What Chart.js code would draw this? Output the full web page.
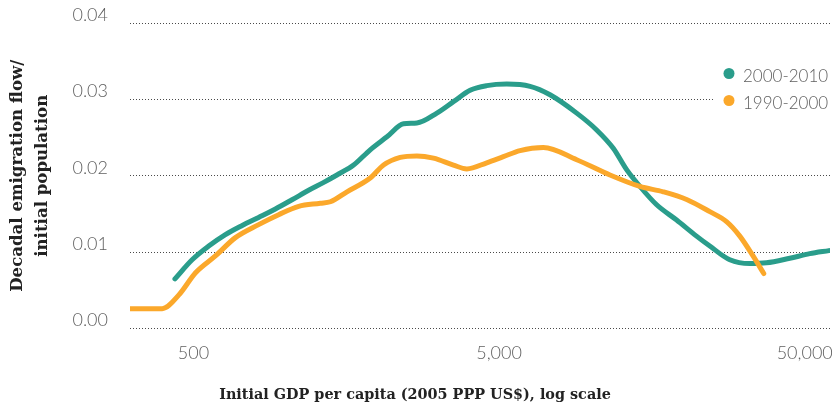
<!DOCTYPE html>
<html>
<head>
<meta charset="utf-8">
<script src="https://cdn.jsdelivr.net/npm/chart.js@4/dist/chart.umd.min.js"></script>
<style>
  html, body { margin: 0; padding: 0; background: #ffffff; }
  #c { display: block; }
</style>
</head>
<body>
<canvas id="c" width="838" height="411" style="width:838px;height:411px"></canvas>
<script>
// Emigration rate by initial GDP per capita, two decades
const seriesLabels = ['2000-2010', '1990-2000'];

// 2000-2010 decade
const gdp2000 = [435, 495, 561, 636, 722, 817, 927, 1051, 1191, 1330, 1474, 1671, 1894, 2148, 2434, 2692,
  3129, 3545, 4020, 4558, 5300, 6314, 7339, 8973, 10430, 11820, 13070, 14450, 16390, 19050, 22130,
  24460, 28440, 33060, 37480, 44670, 51920, 60000];
const rate2000 = [0.0065, 0.0090, 0.0108, 0.0123, 0.0135, 0.01455, 0.01565, 0.01686, 0.0181, 0.0191, 0.0201,
  0.0214, 0.0234, 0.0251, 0.0268, 0.0269, 0.0282, 0.0297, 0.0312, 0.0318, 0.0320, 0.0317, 0.0306,
  0.0282, 0.0260, 0.0236, 0.0208, 0.0186, 0.0162, 0.0142, 0.0121, 0.0108, 0.0090, 0.0085, 0.0086,
  0.0092, 0.0098, 0.0102];

// 1990-2000 decade
const gdp1990 = [310, 395, 448, 508, 590, 686, 817, 950, 1105, 1300, 1402, 1590, 1894, 2094, 2374, 2692,
  3050, 3545, 3921, 4558, 5164, 5856, 6980, 8973, 11530, 14450, 17220, 20540, 24460, 27740, 30670,
  33880, 36730];
const rate1990 = [0.0026, 0.0026, 0.0044, 0.0073, 0.0095, 0.0119, 0.0136, 0.0149, 0.0160, 0.0164, 0.0166,
  0.0179, 0.0197, 0.0214, 0.0224, 0.0226, 0.0223, 0.0214, 0.0209, 0.0217, 0.0225, 0.0233, 0.0237,
  0.0221, 0.0201, 0.0186, 0.0179, 0.0169, 0.0153, 0.0140, 0.0121, 0.0095, 0.0072];

const xTicks = [500, 5000, 50000];
const yTicks = [0, 0.01, 0.02, 0.03, 0.04];

const TEAL = '#2a9d8b';
const ORANGE = '#fba82b';
const TEXT_GREY = '#5f5f5f';

const toPoints = (xs, ys) => xs.map((x, i) => ({ x: x, y: ys[i] }));

// Small key in the upper right of the plot area, on a white patch over the grid
const seriesKey = {
  id: 'seriesKey',
  afterDraw(chart) {
    const { ctx, chartArea } = chart;
    ctx.save();
    ctx.fillStyle = '#ffffff';
    ctx.fillRect(chartArea.right - 116, chartArea.top + 36, 124, 58);
    ctx.font = '300 17px Lato';
    ctx.textBaseline = 'middle';
    ctx.textAlign = 'left';
    const byIndex = chart.data.datasets.slice().sort((a, b) => a.keyIndex - b.keyIndex);
    byIndex.forEach((ds, i) => {
      const y = chartArea.top + 50.5 + i * 27;
      ctx.fillStyle = ds.borderColor;
      ctx.beginPath();
      ctx.arc(chartArea.right - 101, y, 5.5, 0, Math.PI * 2);
      ctx.fill();
      ctx.fillStyle = TEXT_GREY;
      ctx.fillText(ds.label, chartArea.right - 87, y + 3);
    });
    ctx.restore();
  }
};

new Chart(document.getElementById('c'), {
  type: 'line',
  data: {
    datasets: [
      {
        label: seriesLabels[0],
        keyIndex: 0,
        order: 1,
        data: toPoints(gdp2000, rate2000),
        borderColor: TEAL,
        backgroundColor: TEAL,
        borderWidth: 5,
        pointRadius: 0,
        cubicInterpolationMode: 'monotone',
        borderCapStyle: 'round',
        borderJoinStyle: 'round',
        fill: false
      },
      {
        label: seriesLabels[1],
        keyIndex: 1,
        order: 0,
        data: toPoints(gdp1990, rate1990),
        borderColor: ORANGE,
        backgroundColor: ORANGE,
        borderWidth: 5,
        pointRadius: 0,
        cubicInterpolationMode: 'monotone',
        borderCapStyle: 'round',
        borderJoinStyle: 'round',
        fill: false
      }
    ]
  },
  options: {
    responsive: false,
    animation: false,
    layout: { padding: { top: 23, right: 8, bottom: 0, left: 0 } },
    scales: {
      x: {
        type: 'logarithmic',
        min: 310,
        max: 60500,
        afterBuildTicks: s => { s.ticks = xTicks.map(v => ({ value: v })); },
        afterFit: s => { s.height = 58.2; s.paddingLeft = 0; s.paddingRight = 0; },
        grid: { display: false },
        border: { display: false },
        ticks: {
          padding: 6,
          color: TEXT_GREY,
          font: { family: 'Lato', size: 18, weight: '300' },
          maxRotation: 0,
          autoSkip: false,
          callback: v => Number(v).toLocaleString('en-US')
        }
      },
      y: {
        min: 0,
        max: 0.04,
        afterBuildTicks: s => { s.ticks = yTicks.map(v => ({ value: v })); },
        afterFit: s => { s.width = 130; s.paddingTop = 0; s.paddingBottom = 0; },
        grid: { color: '#4a4a4a', lineWidth: 1, drawTicks: false },
        border: { display: false, dash: [1, 2] },
        ticks: {
          padding: 22,
          labelOffset: -8,
          color: TEXT_GREY,
          font: { family: 'Lato', size: 18, weight: '300' },
          callback: v => Number(v).toFixed(2)
        },
        title: {
          display: true,
          text: ['Decadal emigration flow/', 'initial population'],
          color: '#222222',
          font: { family: 'DejaVu Serif', size: 16.6, weight: 'bold', lineHeight: 25 / 16.6 },
          padding: { top: 5, bottom: 0 }
        }
      }
    },
    plugins: {
      legend: { display: false },
      tooltip: { enabled: false },
      title: {
        display: true,
        position: 'bottom',
        text: 'Initial GDP per capita (2005 PPP US$), log scale',
        color: '#222222',
        font: { family: 'DejaVu Serif', size: 14.4, weight: 'bold', lineHeight: 1.2 },
        padding: { top: 0, bottom: 7 }
      }
    }
  },
  plugins: [seriesKey]
});
</script>
</body>
</html>
